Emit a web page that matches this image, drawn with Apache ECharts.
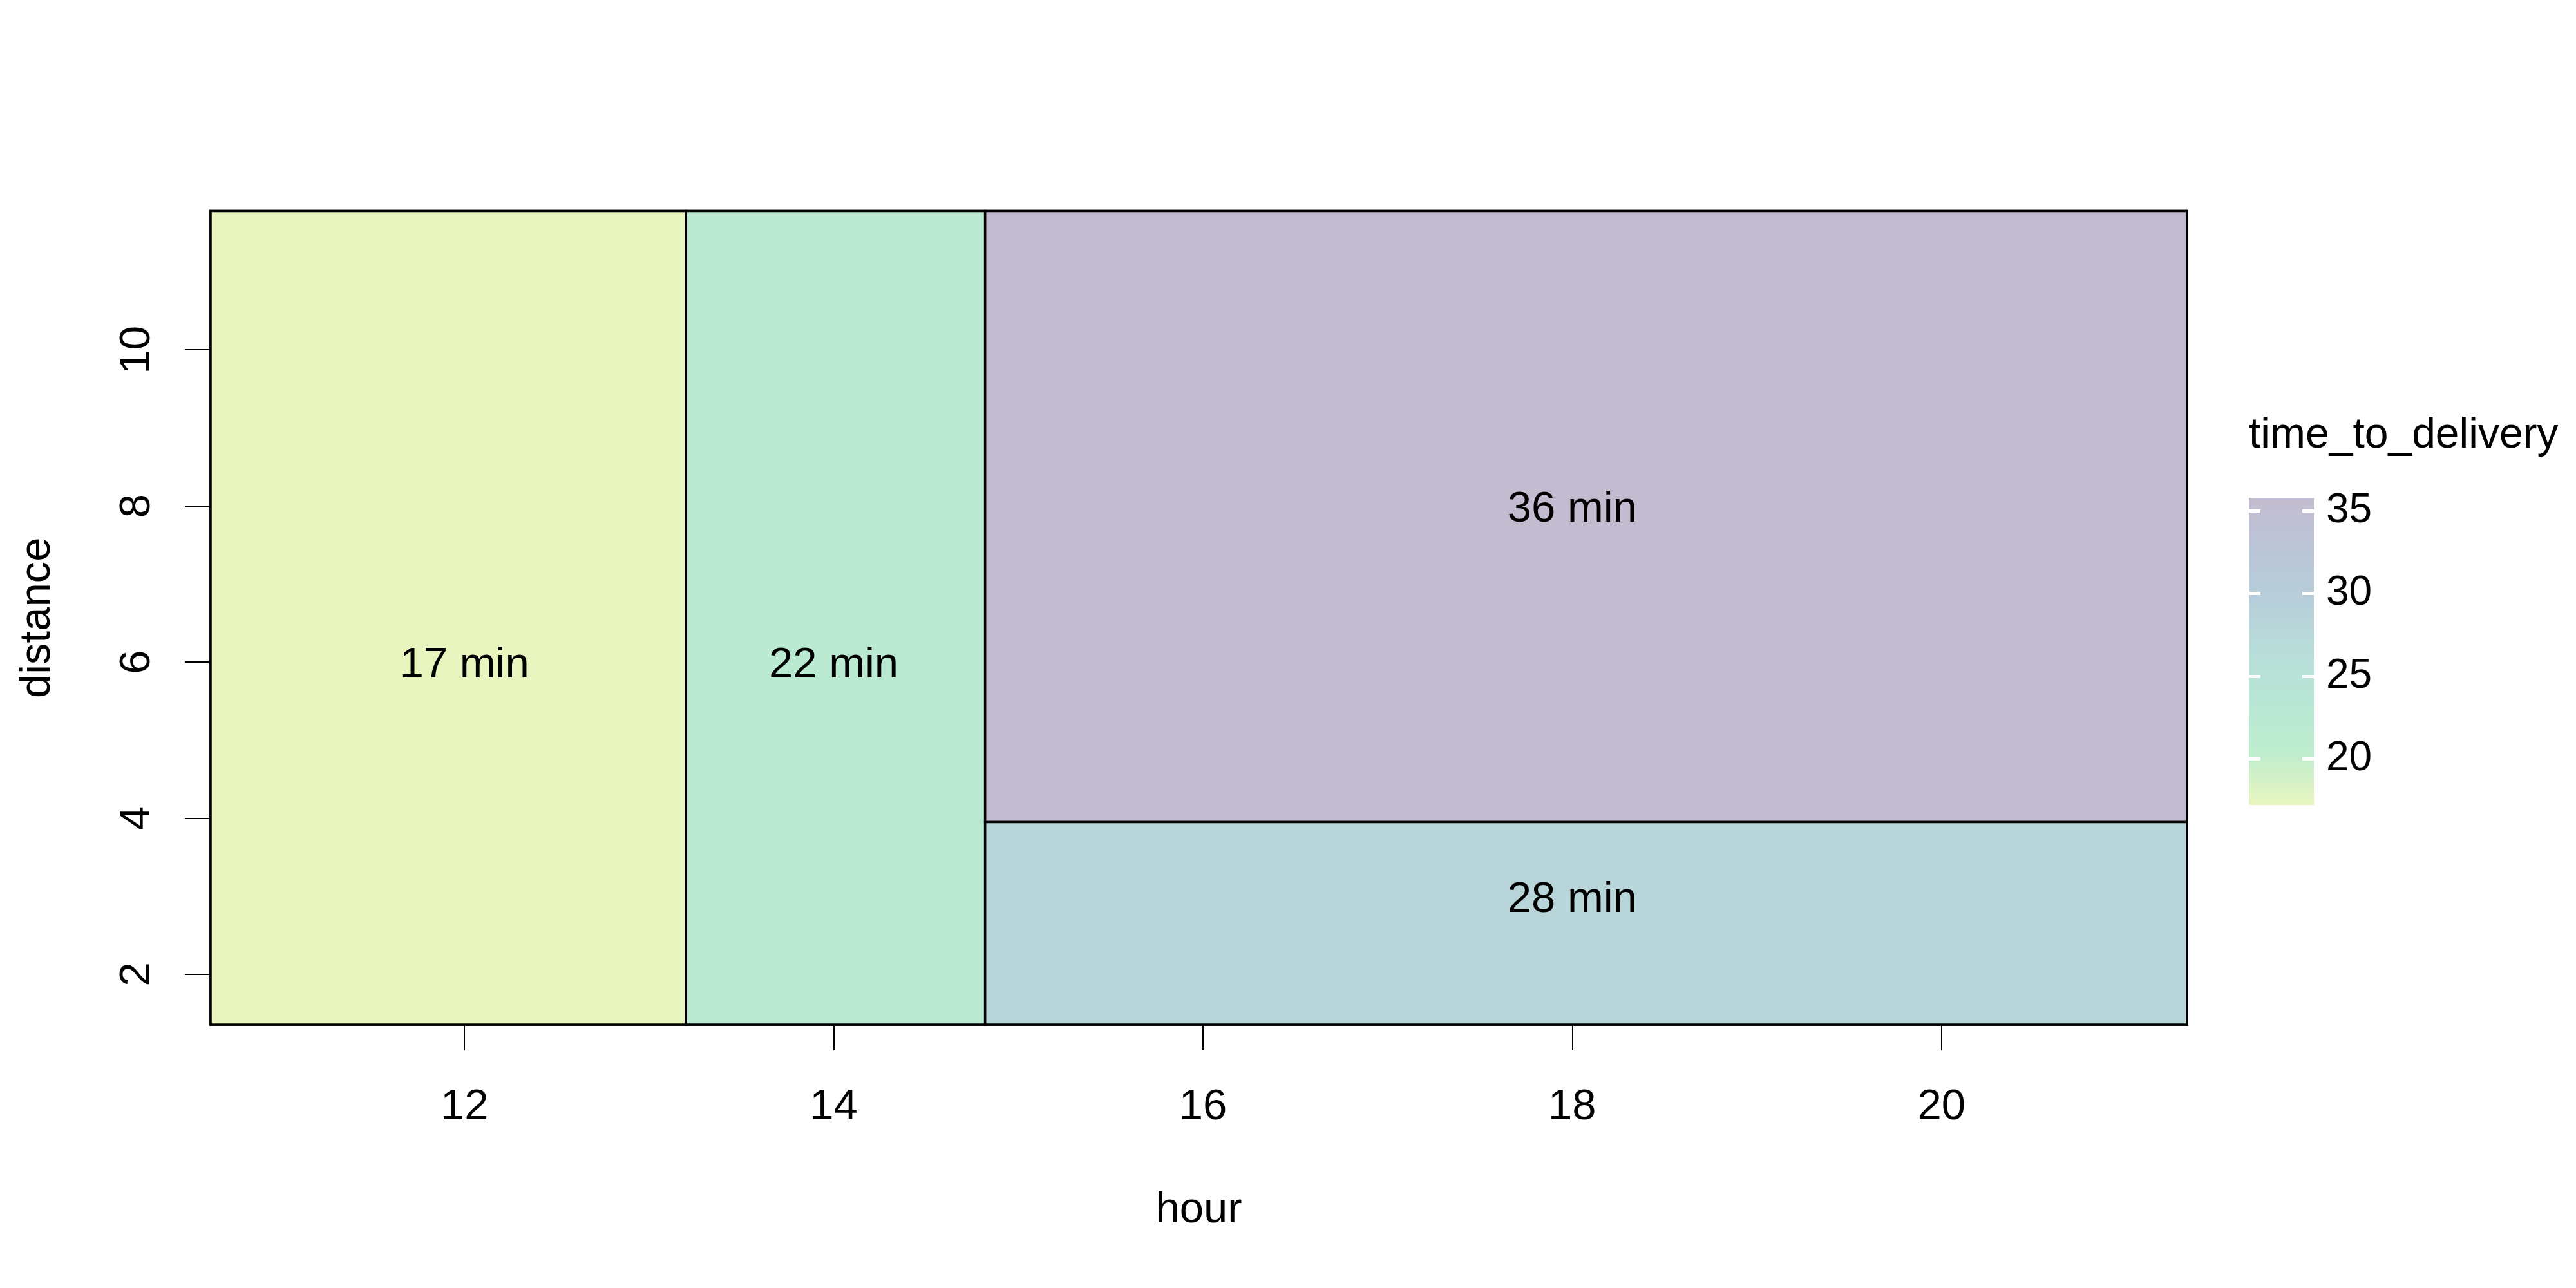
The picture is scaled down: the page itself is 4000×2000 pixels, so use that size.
<!DOCTYPE html>
<html>
<head>
<meta charset="utf-8">
<script src="https://cdn.jsdelivr.net/npm/echarts@6/dist/echarts.min.js"></script>
<style>
  html, body { margin: 0; padding: 0; background: #fff; }
  #chart { width: 4000px; height: 2000px; }
</style>
</head>
<body>
<div id="chart"></div>
<script>
// axis extents of the plot region
const hourMin = 10.625
const hourMax = 21.33
const distMin = 1.355
const distMax = 11.78

// partition cells: hour range, distance range, delivery time, label spot
const cellHourFrom = [hourMin, 13.2, 14.82, 14.82]
const cellHourTo = [13.2, 14.82, hourMax, hourMax]
const cellDistFrom = [distMin, distMin, 3.95, distMin]
const cellDistTo = [distMax, distMax, distMax, 3.95]
const deliveryTime = [17.2, 22, 35.8, 28]
const labelHour = [12, 14, 18, 18]
const labelDist = [6, 6, 8, 3]

// tick labels
const hourTicks = [12, 14, 16, 18, 20]
const distTicks = [2, 4, 6, 8, 10]
const legendTicks = [20, 25, 30, 35]
const timeMin = 17.2
const timeMax = 35.8

// colour ramp (low -> high)
const rampColors = ['#E9F5BF', '#BEEDCE', '#B8E7D5', '#B8DDD9', '#B7CFDA', '#BAC5D6', '#C3BBCF']

const FONT = 'Liberation Sans, Arial, Helvetica, sans-serif'

const cells = deliveryTime.map((t, i) => [
  cellHourFrom[i], cellHourTo[i], cellDistFrom[i], cellDistTo[i], t, labelHour[i], labelDist[i]
])

const chart = echarts.init(document.getElementById('chart'))

const option = {
  backgroundColor: '#fff',
  animation: false,
  title: {
    text: 'time_to_delivery',
    left: 3492,
    top: 644,
    padding: 0,
    textStyle: { fontFamily: FONT, fontSize: 66, fontWeight: 'normal', color: '#000', lineHeight: 66 }
  },
  visualMap: {
    type: 'continuous',
    show: false,
    min: timeMin,
    max: timeMax,
    dimension: 4,
    seriesIndex: 0,
    inRange: { color: rampColors }
  },
  grid: [
    { left: 327, right: 604, top: 327.5, bottom: 409, show: true, borderColor: '#000', borderWidth: 3.5, backgroundColor: 'transparent' },
    { left: 3492, top: 773, width: 101, height: 477, show: false }
  ],
  xAxis: [
    {
      type: 'value',
      gridIndex: 0,
      min: hourMin,
      max: hourMax,
      name: 'hour',
      nameLocation: 'middle',
      nameGap: 255,
      nameTextStyle: { fontFamily: FONT, fontSize: 67, color: '#000', lineHeight: 67 },
      axisLine: { show: false },
      axisTick: { show: true, length: 40, lineStyle: { color: '#000', width: 2 }, customValues: hourTicks },
      axisLabel: { show: true, margin: 95, fontFamily: FONT, fontSize: 67, color: '#000', lineHeight: 67, customValues: hourTicks },
      splitLine: { show: false }
    },
    {
      type: 'value',
      gridIndex: 1,
      min: 0,
      max: 1,
      show: false
    }
  ],
  yAxis: [
    {
      type: 'value',
      gridIndex: 0,
      min: distMin,
      max: distMax,
      name: 'distance',
      nameLocation: 'middle',
      nameGap: 235,
      nameTextStyle: { fontFamily: FONT, fontSize: 67, color: '#000', lineHeight: 67 },
      axisLine: { show: false },
      axisTick: { show: true, length: 40, lineStyle: { color: '#000', width: 2 }, customValues: distTicks },
      axisLabel: { show: true, rotate: 90, margin: 80, fontFamily: FONT, fontSize: 67, color: '#000', lineHeight: 67, customValues: distTicks },
      splitLine: { show: false }
    },
    {
      type: 'value',
      gridIndex: 1,
      position: 'left',
      min: timeMin,
      max: timeMax,
      z: 10,
      axisLine: { show: false },
      axisTick: { show: true, inside: true, length: 18, lineStyle: { color: '#fff', width: 5 }, customValues: legendTicks },
      axisLabel: { show: false },
      splitLine: { show: false }
    },
    {
      type: 'value',
      gridIndex: 1,
      position: 'right',
      min: timeMin,
      max: timeMax,
      z: 10,
      axisLine: { show: false },
      axisTick: { show: true, inside: true, length: 18, lineStyle: { color: '#fff', width: 5 }, customValues: legendTicks },
      axisLabel: { show: true, margin: 19, fontFamily: FONT, fontSize: 64, color: '#000', lineHeight: 64, customValues: legendTicks },
      splitLine: { show: false }
    }
  ],
  series: [
    {
      type: 'custom',
      xAxisIndex: 0,
      yAxisIndex: 0,
      data: cells,
      renderItem: function (params, api) {
        const topLeft = api.coord([api.value(0), api.value(3)])
        const bottomRight = api.coord([api.value(1), api.value(2)])
        const mid = api.coord([api.value(5), api.value(6)])
        return {
          type: 'group',
          children: [
            {
              type: 'rect',
              shape: { x: topLeft[0], y: topLeft[1], width: bottomRight[0] - topLeft[0], height: bottomRight[1] - topLeft[1] },
              style: { fill: api.visual('color'), stroke: '#000', lineWidth: 3.5 }
            },
            {
              type: 'text',
              x: mid[0],
              y: mid[1] + 6,
              z2: 10,
              style: {
                text: Math.round(api.value(4)) + ' min',
                fill: '#000',
                font: '67px ' + FONT,
                align: 'center',
                verticalAlign: 'middle'
              }
            }
          ]
        }
      }
    },
    {
      // colour bar of the legend
      type: 'custom',
      xAxisIndex: 1,
      yAxisIndex: 1,
      data: [[0, 1, timeMin, timeMax]],
      renderItem: function (params, api) {
        const topLeft = api.coord([api.value(0), api.value(3)])
        const bottomRight = api.coord([api.value(1), api.value(2)])
        const stops = rampColors.map((c, i) => ({ offset: i / (rampColors.length - 1), color: c }))
        return {
          type: 'rect',
          shape: { x: topLeft[0], y: topLeft[1], width: bottomRight[0] - topLeft[0], height: bottomRight[1] - topLeft[1] },
          style: { fill: new echarts.graphic.LinearGradient(0, 1, 0, 0, stops) }
        }
      }
    }
  ]
}

chart.setOption(option)
</script>
</body>
</html>
